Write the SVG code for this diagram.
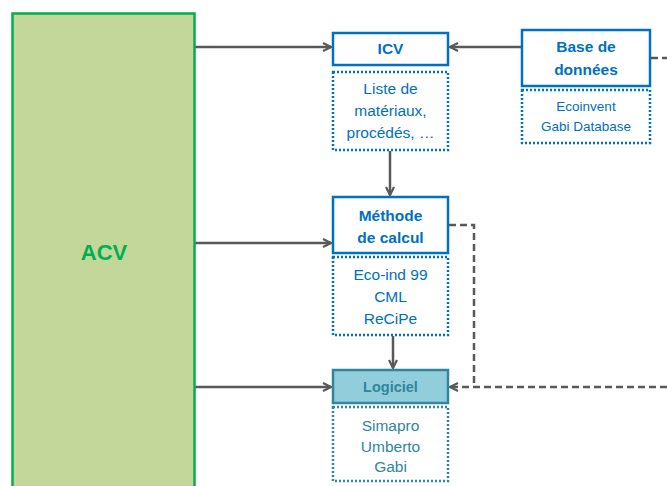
<svg xmlns="http://www.w3.org/2000/svg" width="667" height="486" viewBox="0 0 667 486">
<defs>
<marker id="arr" viewBox="0 0 10 10" refX="9" refY="5" markerWidth="10" markerHeight="10" markerUnits="userSpaceOnUse" orient="auto">
<path d="M1,1 L9,5 L1,9" fill="none" stroke="#595959" stroke-width="2.2"/>
</marker>
<style>
text{font-family:"Liberation Sans",Arial,sans-serif;text-anchor:middle}
.main{fill:#fff;stroke:#0070C0;stroke-width:2.5}
.sub{fill:#fff;stroke:#0070C0;stroke-width:2.5;stroke-dasharray:2 2}
.t{fill:#0070C0;font-size:15.5px}
.tb{fill:#0070C0;font-size:15.5px;font-weight:bold}
.c{fill:none;stroke:#595959;stroke-width:2.5}
.d{fill:none;stroke:#595959;stroke-width:2.5;stroke-dasharray:7 4}
</style>
</defs>
<g id="connectors">
<path class="c" d="M194,47 H331" marker-end="url(#arr)"/>
<path class="c" d="M194,243 H331" marker-end="url(#arr)"/>
<path class="c" d="M194,387 H331" marker-end="url(#arr)"/>
<path class="c" d="M522,47 H450" marker-end="url(#arr)"/>
<path class="c" d="M390,151 V195" marker-end="url(#arr)"/>
<path class="c" d="M393,336 V368" marker-end="url(#arr)"/>
<path class="d" d="M449,225 H474 V387"/>
<path class="d" d="M651,58 H667"/>
<path class="d" d="M667,387 H450" marker-end="url(#arr)"/>
</g>
<g id="acv">
<rect x="12.5" y="13.5" width="182" height="480" fill="#C4D79B" stroke="#00B050" stroke-width="2.5"/>
<text x="104" y="260" font-size="22" font-weight="bold" fill="#00B050">ACV</text>
</g>
<g id="icv">
<rect class="main" x="333" y="33" width="115" height="32"/>
<text class="tb" x="390.5" y="54">ICV</text>
</g>
<g id="icv-list">
<rect class="sub" x="333" y="72" width="115" height="78"/>
<text class="t" x="390.5" y="94">Liste de</text>
<text class="t" x="390.5" y="116">matériaux,</text>
<text class="t" x="390.5" y="138">procédés, …</text>
</g>
<g id="base">
<rect class="main" x="522" y="30" width="128" height="56"/>
<text class="tb" x="586" y="52">Base de</text>
<text class="tb" x="586" y="75">données</text>
</g>
<g id="base-list">
<rect class="sub" x="522" y="90" width="128" height="53"/>
<text class="t" x="586" y="111" font-size="13.5px" style="font-size:13.5px">Ecoinvent</text>
<text class="t" x="586" y="131" style="font-size:13.5px">Gabi Database</text>
</g>
<g id="methode">
<rect class="main" x="333" y="197" width="115" height="56"/>
<text class="tb" x="390.5" y="221">Méthode</text>
<text class="tb" x="390.5" y="243">de calcul</text>
</g>
<g id="methode-list">
<rect class="sub" x="333" y="257" width="115" height="78"/>
<text class="t" x="390.5" y="280">Eco-ind 99</text>
<text class="t" x="390.5" y="302">CML</text>
<text class="t" x="390.5" y="324">ReCiPe</text>
</g>
<g id="logiciel">
<rect x="333" y="370" width="115" height="33" fill="#92CDDC" stroke="#31859C" stroke-width="2.5"/>
<text x="390.5" y="392" font-size="14.5" font-weight="bold" fill="#31859C">Logiciel</text>
</g>
<g id="logiciel-list">
<rect x="333" y="407" width="115" height="74" fill="#fff" stroke="#31859C" stroke-width="2.5" stroke-dasharray="2 2"/>
<text x="390.5" y="431" font-size="15.5" fill="#31859C">Simapro</text>
<text x="390.5" y="452" font-size="15.5" fill="#31859C">Umberto</text>
<text x="390.5" y="472" font-size="15.5" fill="#31859C">Gabi</text>
</g>
</svg>
